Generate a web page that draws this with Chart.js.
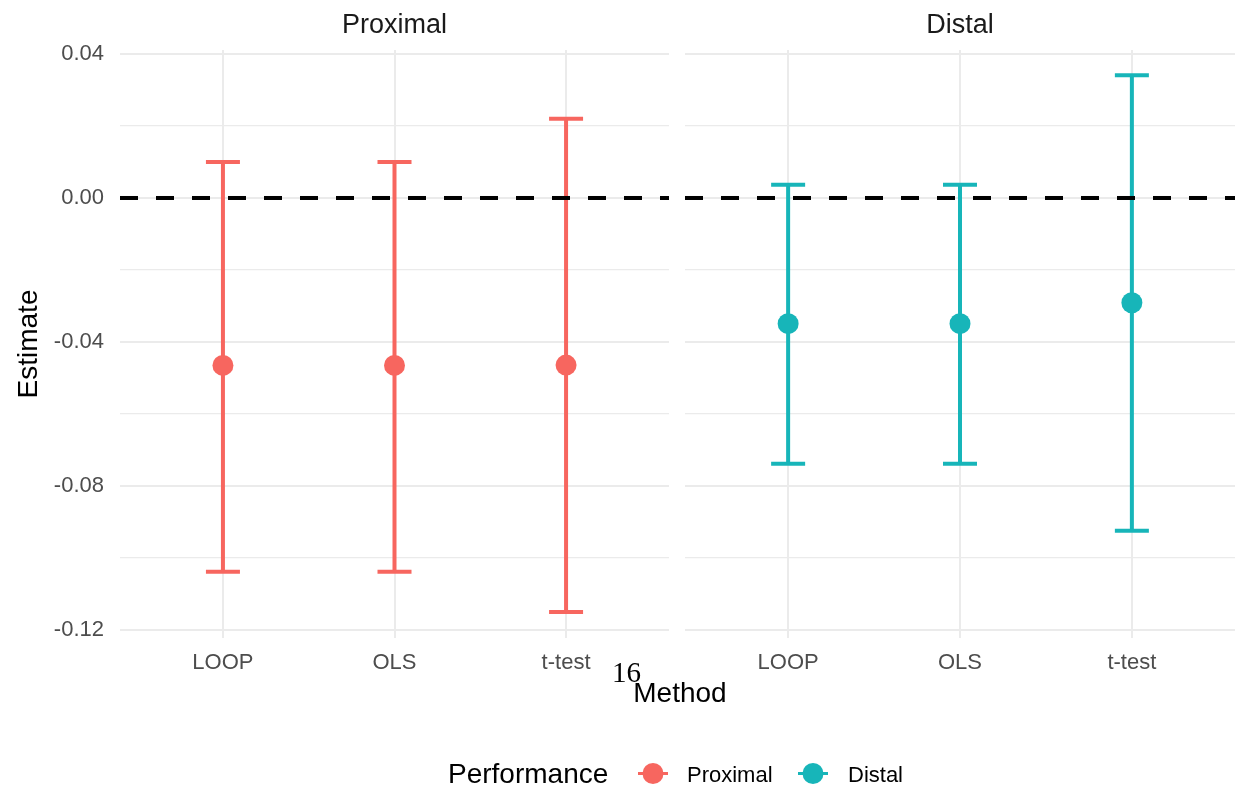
<!DOCTYPE html>
<html><head><meta charset="utf-8">
<script src="https://cdn.jsdelivr.net/npm/chart.js@4/dist/chart.umd.min.js"></script>
<style>
html,body{margin:0;padding:0;background:#fff;width:1238px;height:788px;overflow:hidden;}
canvas{position:absolute;}
svg{position:absolute;left:0;top:0;pointer-events:none;}
text{font-family:"Liberation Sans",Arial,Helvetica,sans-serif;}
</style></head><body>
<canvas id="c1" width="669" height="653" style="left:0;top:30px"></canvas>
<canvas id="c2" width="553" height="653" style="left:685px;top:30px"></canvas>
<svg width="1238" height="788">
  <text x="394.5" y="33" font-size="27" fill="#1A1A1A" text-anchor="middle">Proximal</text>
  <text x="960" y="33" font-size="27" fill="#1A1A1A" text-anchor="middle">Distal</text>
  <text transform="translate(36.5,344) rotate(-90)" font-size="28" fill="#000" text-anchor="middle">Estimate</text>
  <text x="680" y="702" font-size="28" fill="#000" text-anchor="middle">Method</text>
  <text x="612" y="682" font-size="29" fill="#000" style="font-family:'Liberation Serif','Times New Roman',serif">16</text>
  <text x="448" y="783" font-size="28" fill="#000">Performance</text>
  <line x1="638" y1="773.5" x2="668" y2="773.5" stroke="#F7665F" stroke-width="3"/>
  <circle cx="653" cy="773.5" r="10.5" fill="#F7665F"/>
  <text x="687" y="782" font-size="22" fill="#000">Proximal</text>
  <line x1="798" y1="773.5" x2="828" y2="773.5" stroke="#17B5B9" stroke-width="3"/>
  <circle cx="813" cy="773.5" r="10.5" fill="#17B5B9"/>
  <text x="848" y="782" font-size="22" fill="#000">Distal</text>
</svg>
<script>
// ---- data ----
const methods = ['LOOP', 'OLS', 't-test'];
const proximalEst = [-0.0465, -0.0465, -0.0464];
const proximalLo  = [-0.1038, -0.1038, -0.1150];
const proximalHi  = [0.0100, 0.0100, 0.0220];
const distalEst   = [-0.0349, -0.0349, -0.0291];
const distalLo    = [-0.0738, -0.0738, -0.0924];
const distalHi    = [0.0037, 0.0037, 0.0341];
const yTicks = [-0.12, -0.10, -0.08, -0.06, -0.04, -0.02, 0.00, 0.02, 0.04];
const refLine = 0;

const FONT = '"Liberation Sans", Arial, Helvetica, sans-serif';
const isMajor = v => Math.abs(Math.round(v / 0.04) * 0.04 - v) < 1e-9;

function makeChart(id, est, lo, hi, color, showY, padRight) {
  const bars = [], caps = [], pts = [];
  methods.forEach((m, i) => {
    const x = i + 1;
    bars.push({x, y: lo[i]}, {x, y: hi[i]}, {x, y: null});
    caps.push({x, y: lo[i]}, {x, y: hi[i]});
    pts.push({x, y: est[i]});
  });
  return new Chart(document.getElementById(id), {
    type: 'scatter',
    data: {datasets: [
      {type: 'line', data: [{x: 0.4, y: refLine}, {x: 3.6, y: refLine}], borderColor: '#000', borderWidth: 4,
       borderDash: [18, 18], pointRadius: 0, fill: false, order: 0},
      {data: pts, pointBackgroundColor: color, pointBorderWidth: 0, pointRadius: 10.5, order: 1},
      {data: caps, pointStyle: 'line', pointRadius: 17, pointBorderColor: color, pointBorderWidth: 4, order: 2},
      {type: 'line', data: bars, borderColor: color, borderWidth: 4, pointRadius: 0, spanGaps: false, fill: false, order: 3}
    ]},
    options: {
      responsive: false, animation: false, events: [],
      layout: {autoPadding: false, padding: {top: 20, right: padRight, left: 0, bottom: 0}},
      plugins: {legend: {display: false}, tooltip: {enabled: false}},
      scales: {
        x: {type: 'linear', min: 0.4, max: 3.6,
            afterBuildTicks: s => { s.ticks = methods.map((m, i) => ({value: i + 1})); },
            afterFit: s => { s.height = 45; s.paddingLeft = 0; s.paddingRight = 0; s.paddingTop = 0; s.paddingBottom = 0; },
            ticks: {callback: v => methods[Math.round(v) - 1], font: {family: FONT, size: 22}, color: '#4D4D4D', padding: 12, maxRotation: 0},
            grid: {color: '#EBEBEB', lineWidth: 2, drawTicks: false},
            border: {display: false}},
        y: {type: 'linear', min: -0.1222, max: 0.0411,
            afterBuildTicks: s => { s.ticks = yTicks.map(v => ({value: v})); },
            afterFit: s => { s.width = showY ? 120 : 0; s.paddingTop = 0; s.paddingBottom = 0; s.paddingLeft = 0; s.paddingRight = 0; },
            ticks: {display: showY, callback: v => isMajor(v) ? v.toFixed(2) : '', font: {family: FONT, size: 22}, color: '#4D4D4D', padding: 16},
            grid: {color: '#EBEBEB', lineWidth: ctx => (ctx.tick && isMajor(ctx.tick.value)) ? 2 : 1.2, drawTicks: false},
            border: {display: false}}
      }
    }
  });
}
makeChart('c1', proximalEst, proximalLo, proximalHi, '#F7665F', true, 0);
makeChart('c2', distalEst, distalLo, distalHi, '#17B5B9', false, 3);
</script>
</body></html>
